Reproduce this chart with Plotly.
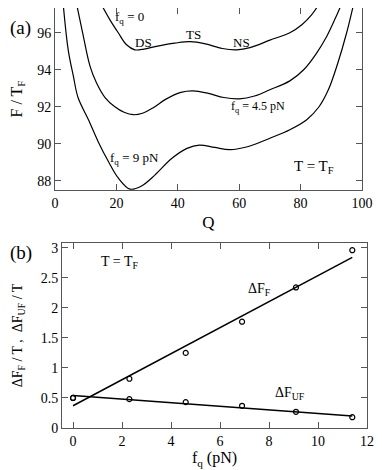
import plotly.graph_objects as go

# panel (a): free energy profiles F/T_F vs Q
q_f0 = [15.2, 17.9, 20.6, 23.3, 26, 29, 33, 39, 44, 49, 54.5, 59.2, 63.5, 70, 76.5, 80.5, 83.5, 85.8]
F_f0 = [97.5, 96.7, 96.0, 95.35, 95.08, 95.12, 95.27, 95.44, 95.52, 95.4, 95.15, 95.08, 95.2, 95.6, 96.0, 96.45, 96.95, 97.5]

q_f45 = [7.1, 9.0, 11.4, 13.5, 16.3, 19.5, 22.5, 25.5, 28.5, 32, 36, 41, 45, 50, 55, 60, 65, 70, 76.5, 81, 85, 88.5, 91.5, 93.2]
F_f45 = [97.5, 96.0, 94.2, 93.3, 92.5, 92.0, 91.7, 91.57, 91.65, 91.95, 92.4, 92.78, 92.86, 92.72, 92.5, 92.43, 92.58, 92.92, 93.4, 94.0, 94.85, 95.8, 96.85, 97.5]

q_f9 = [2.7, 4.3, 6.0, 7.5, 10.9, 14.1, 17.4, 20.6, 24.4, 28.2, 32.6, 38, 43, 47, 52, 57, 63, 70, 76.5, 82, 86, 89, 92, 95, 97.2]
F_f9 = [97.5, 95.08, 93.64, 92.5, 91.3, 90.1, 89.04, 88.15, 87.55, 87.72, 88.32, 89.2, 89.75, 89.93, 89.8, 89.68, 89.85, 90.3, 90.76, 91.3, 92.0, 92.9, 94.3, 96, 97.5]

# panel (b): barriers vs force
fq = [0, 2.3, 4.6, 6.9, 9.1, 11.4]
dF_F = [0.5, 0.82, 1.25, 1.77, 2.34, 2.96]
dF_UF = [0.5, 0.48, 0.43, 0.37, 0.27, 0.18]
fit_x = [0, 11.4]
fit_F = [0.37, 2.84]
fit_UF = [0.54, 0.2]

serif = "Times New Roman, Liberation Serif, DejaVu Serif, serif"
ax_col = "#555"

# the page has an 8px body margin, so work in screen pixels and convert
W, H = 374, 462
def X(px):
    return (px - 8) / W
def Y(py):
    return 1 - (py - 8) / H

fig = go.Figure()
line = dict(color="black", width=1.2, shape="spline", smoothing=1)
fig.add_trace(go.Scatter(x=q_f0, y=F_f0, mode="lines", line=line, xaxis="x", yaxis="y"))
fig.add_trace(go.Scatter(x=q_f45, y=F_f45, mode="lines", line=line, xaxis="x", yaxis="y"))
fig.add_trace(go.Scatter(x=q_f9, y=F_f9, mode="lines", line=line, xaxis="x", yaxis="y"))

fig.add_trace(go.Scatter(x=fit_x, y=fit_F, mode="lines", line=dict(color="black", width=1.5), xaxis="x2", yaxis="y2"))
fig.add_trace(go.Scatter(x=fit_x, y=fit_UF, mode="lines", line=dict(color="black", width=1.5), xaxis="x2", yaxis="y2"))
mk = dict(symbol="circle-open", size=5, color="black", line=dict(width=1.2))
fig.add_trace(go.Scatter(x=fq, y=dF_F, mode="markers", marker=mk, xaxis="x2", yaxis="y2"))
fig.add_trace(go.Scatter(x=fq, y=dF_UF, mode="markers", marker=mk, xaxis="x2", yaxis="y2"))

axis = dict(showline=True, linecolor=ax_col, linewidth=1, mirror="ticks", ticks="inside",
            ticklen=6, tickcolor=ax_col, showgrid=False, zeroline=False, automargin=False,
            tickfont=dict(family=serif, size=14, color="black"))

fig.update_layout(
    width=W, height=H, autosize=False,
    margin=dict(l=0, r=0, t=0, b=0),
    paper_bgcolor="white", plot_bgcolor="white",
    showlegend=False,
    font=dict(family=serif, color="black"),
    xaxis=dict(axis, domain=[X(55), X(362)], range=[0, 100], dtick=20, anchor="y",
               title=dict(text="Q", font=dict(size=17), standoff=6)),
    yaxis=dict(axis, domain=[Y(190), Y(8)], range=[87.5, 97.34], dtick=2, anchor="x",
               title=dict(text="F / T<sub>F</sub>", font=dict(size=16), standoff=14)),
    xaxis2=dict(axis, domain=[X(62), X(367)], range=[-0.45, 12], dtick=2, anchor="y2",
                title=dict(text="f<sub>q</sub> (pN)", font=dict(size=16), standoff=4)),
    yaxis2=dict(axis, domain=[Y(428), Y(243)], range=[0, 3.08], dtick=0.5, anchor="x2",
                title=dict(text="ΔF<sub>F</sub> / T ,  ΔF<sub>UF</sub> / T", font=dict(size=14), standoff=14)),
)

def note(text, x, y, size=13, xref="x", yref="y", xanchor="center"):
    fig.add_annotation(text=text, x=x, y=y, xref=xref, yref=yref, showarrow=False, xanchor=xanchor,
                       font=dict(family=serif, size=size, color="black"))

note("f<sub>q</sub> = 0", 19.0, 96.85, xanchor="left")
note("DS", 28.8, 95.45)
note("TS", 45.1, 95.9)
note("NS", 60.8, 95.45)
note("f<sub>q</sub> = 4.5 pN", 66, 92.0, size=12)
note("f<sub>q</sub> = 9 pN", 26, 89.2)
note("T = T<sub>F</sub>", 84.4, 88.75, size=15)

note("T = T<sub>F</sub>", 1.92, 2.75, size=14, xref="x2", yref="y2")
note("ΔF<sub>F</sub>", 7.6, 2.3, size=14, xref="x2", yref="y2")
note("ΔF<sub>UF</sub>", 8.86, 0.58, size=14, xref="x2", yref="y2")

note("(a)", 0, Y(15), size=19, xref="paper", yref="paper", xanchor="left")
note("(b)", 0, Y(253), size=19, xref="paper", yref="paper", xanchor="left")

fig.write_html("out.html")
